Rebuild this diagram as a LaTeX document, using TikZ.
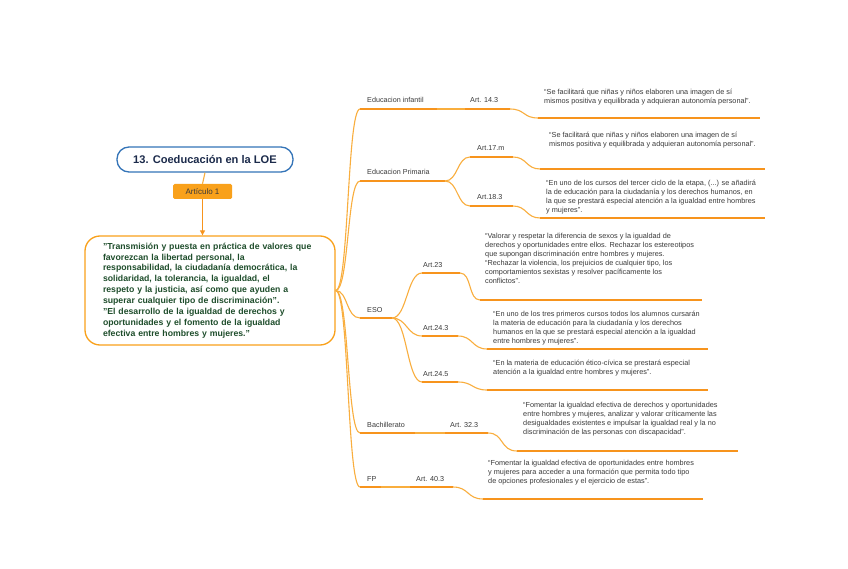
\documentclass[tikz,border=0pt]{standalone}
\usepackage{fontspec}
\setmainfont{Liberation Sans}
\usetikzlibrary{arrows.meta,positioning}

\definecolor{lineor}{HTML}{F9AE3E}
\definecolor{baror}{HTML}{F7941D}
\definecolor{boxor}{HTML}{F9A11B}
\definecolor{titleblue}{HTML}{3474B8}
\definecolor{titlenavy}{HTML}{1C2B4B}
\definecolor{quotegreen}{HTML}{1E4D2B}
\definecolor{txtgray}{HTML}{3A3A3A}

\newcommand{\dq}{\char34\relax}

\tikzset{
  branch/.style={draw=lineor, line width=1.1pt},
  bar/.style={draw=baror, line width=2.4pt},
  lbl/.style={anchor=base west, inner sep=0pt, text=txtgray, font=\fontsize{7.2}{9}\selectfont},
  quote/.style={anchor=north west, inner sep=0pt, align=left, text=txtgray, font=\fontsize{7.3}{9}\selectfont},
}

\begin{document}
\begin{tikzpicture}[x=1pt,y=-1pt]
    \useasboundingbox[fill=white] (0,0) rectangle (848,569);

    % Root and article 1
    \node[draw=titleblue, line width=1.3pt, rounded corners=12pt, minimum width=176pt, minimum height=25pt,
          text=titlenavy, font=\fontsize{11.1}{13}\selectfont\bfseries] (title) at (205,159.5) {13. Coeducación en la LOE};
    \node[fill=boxor, rounded corners=1.5pt, minimum width=59pt, minimum height=15pt, inner sep=0pt,
          text=txtgray, font=\fontsize{8}{9}\selectfont] (art1) at (202.5,191.5) {Artículo 1};
    \node[draw=boxor, line width=1.3pt, rounded corners=15pt, minimum width=250pt, minimum height=109pt,
          text width=214pt, align=left, text=quotegreen, font=\fontsize{8.7}{10.9}\selectfont\bfseries] (main) at (210,290.5)
          {\dq Transmisión y puesta en práctica de valores que\\
           favorezcan la libertad personal, la\\
           responsabilidad, la ciudadanía democrática, la\\
           solidaridad, la tolerancia, la igualdad, el\\
           respeto y la justicia, así como que ayuden a\\
           superar cualquier tipo de discriminación\dq.\\
           \dq El desarrollo de la igualdad de derechos y\\
           oportunidades y el fomento de la igualdad\\
           efectiva entre hombres y mujeres.\dq};
    \draw[branch] (title.south) -- (art1.north);
    \draw[branch, -{Triangle[length=5pt,width=5pt]}, baror] (art1.south) -- (art1.south |- main.north);

    % Educacion infantil
    \coordinate (inf0) at (360,109); \coordinate (inf1) at (437,109);
    \coordinate (a143a) at (465,109); \coordinate (a143b) at (510,109);
    \coordinate (q143a) at (538,118); \coordinate (q143b) at (760,118);
    \node[lbl] (inf) at (367,103) {Educacion infantil};
    \node[lbl] (a143) at (470,103) {Art. 14.3};
    \node[quote] (q143) at (544,88.5) {“Se facilitará que niñas y niños elaboren una imagen de sí\\
        mismos positiva y equilibrada y adquieran autonomía personal”.};
    \draw[branch] (main.east) .. controls (349,290.5) and (347,109) .. (inf0);
    \draw[bar] (inf0) -- (inf1);
    \draw[branch] (inf1) -- (a143a);
    \draw[bar] (a143a) -- (a143b);
    \draw[branch] (a143b) .. controls (525,109) and (523,118) .. (q143a);
    \draw[bar] (q143a) -- (q143b);

    % Educacion Primaria
    \coordinate (pri0) at (360,181); \coordinate (pri1) at (445,181);
    \coordinate (a17a) at (470,157); \coordinate (a17b) at (513,157);
    \coordinate (q17a) at (540,169); \coordinate (q17b) at (765,169);
    \coordinate (a18a) at (470,206); \coordinate (a18b) at (513,206);
    \coordinate (q18a) at (540,218); \coordinate (q18b) at (765,218);
    \node[lbl] (pri) at (367,175) {Educacion Primaria};
    \node[lbl] (a17) at (477,151) {Art.17.m};
    \node[lbl] (a18) at (477,200) {Art.18.3};
    \node[quote] (q17) at (549,131.5) {“Se facilitará que niñas y niños elaboren una imagen de sí\\
        mismos positiva y equilibrada y adquieran autonomía personal”.};
    \node[quote] (q18) at (546,179.5) {“En uno de los cursos del tercer ciclo de la etapa, (...) se añadirá\\
        la de educación para la ciudadanía y los derechos humanos, en\\
        la que se prestará especial atención a la igualdad entre hombres\\
        y mujeres”.};
    \draw[branch] (main.east) .. controls (349,290.5) and (347,181) .. (pri0);
    \draw[bar] (pri0) -- (pri1);
    \draw[branch] (pri1) .. controls (458,181) and (457,157) .. (a17a);
    \draw[branch] (pri1) .. controls (458,181) and (457,206) .. (a18a);
    \draw[bar] (a17a) -- (a17b);
    \draw[bar] (a18a) -- (a18b);
    \draw[branch] (a17b) .. controls (527,157) and (526,169) .. (q17a);
    \draw[branch] (a18b) .. controls (527,206) and (526,218) .. (q18a);
    \draw[bar] (q17a) -- (q17b);
    \draw[bar] (q18a) -- (q18b);

    % ESO
    \coordinate (eso0) at (360,318); \coordinate (eso1) at (392,318);
    \coordinate (a23a) at (422,273); \coordinate (a23b) at (460,273);
    \coordinate (q23a) at (480,300); \coordinate (q23b) at (702,300);
    \coordinate (a243a) at (422,336); \coordinate (a243b) at (458,336);
    \coordinate (q243a) at (487,349); \coordinate (q243b) at (708,349);
    \coordinate (a245a) at (422,382); \coordinate (a245b) at (458,382);
    \coordinate (q245a) at (487,390); \coordinate (q245b) at (708,390);
    \node[lbl] (eso) at (367,312.5) {ESO};
    \node[lbl] (a23) at (423,267.5) {Art.23};
    \node[lbl] (a243) at (423,330) {Art.24.3};
    \node[lbl] (a245) at (423,376) {Art.24.5};
    \node[quote] (q23) at (485,233.5) {“Valorar y respetar la diferencia de sexos y la igualdad de\\
        derechos y oportunidades entre ellos. Rechazar los estereotipos\\
        que supongan discriminación entre hombres y mujeres.\\
        “Rechazar la violencia, los prejuicios de cualquier tipo, los\\
        comportamientos sexistas y resolver pacíficamente los\\
        conflictos”.};
    \node[quote] (q243) at (493,310.5) {“En uno de los tres primeros cursos todos los alumnos cursarán\\
        la materia de educación para la ciudadanía y los derechos\\
        humanos en la que se prestará especial atención a la igualdad\\
        entre hombres y mujeres”.};
    \node[quote] (q245) at (493,359.5) {“En la materia de educación ético-cívica se prestará especial\\
        atención a la igualdad entre hombres y mujeres”.};
    \draw[branch] (main.east) .. controls (348,290.5) and (346,318) .. (eso0);
    \draw[bar] (eso0) -- (eso1);
    \draw[branch] (eso1) .. controls (407,318) and (407,273) .. (a23a);
    \draw[branch] (eso1) .. controls (407,318) and (407,336) .. (a243a);
    \draw[branch] (eso1) .. controls (407,318) and (407,382) .. (a245a);
    \draw[bar] (a23a) -- (a23b);
    \draw[bar] (a243a) -- (a243b);
    \draw[bar] (a245a) -- (a245b);
    \draw[branch] (a23b) .. controls (472,273) and (468,300) .. (q23a);
    \draw[branch] (a243b) .. controls (473,336) and (472,349) .. (q243a);
    \draw[branch] (a245b) .. controls (473,382) and (472,390) .. (q245a);
    \draw[bar] (q23a) -- (q23b);
    \draw[bar] (q243a) -- (q243b);
    \draw[bar] (q245a) -- (q245b);

    % Bachillerato
    \coordinate (bac0) at (360,433); \coordinate (bac1) at (415,433);
    \coordinate (a323a) at (445,433); \coordinate (a323b) at (488,433);
    \coordinate (q323a) at (517,451); \coordinate (q323b) at (738,451);
    \node[lbl] (bac) at (367,427) {Bachillerato};
    \node[lbl] (a323) at (450,427) {Art. 32.3};
    \node[quote] (q323) at (523,402.5) {“Fomentar la igualdad efectiva de derechos y oportunidades\\
        entre hombres y mujeres, analizar y valorar críticamente las\\
        desigualdades existentes e impulsar la igualdad real y la no\\
        discriminación de las personas con discapacidad”.};
    \draw[branch] (main.east) .. controls (349,290.5) and (347,433) .. (bac0);
    \draw[bar] (bac0) -- (bac1);
    \draw[branch] (bac1) -- (a323a);
    \draw[bar] (a323a) -- (a323b);
    \draw[branch] (a323b) .. controls (504,433) and (500,451) .. (q323a);
    \draw[bar] (q323a) -- (q323b);

    % FP
    \coordinate (fp0) at (360,487); \coordinate (fp1) at (381,487);
    \coordinate (a403a) at (410,487); \coordinate (a403b) at (453,487);
    \coordinate (q403a) at (483,499); \coordinate (q403b) at (703,499);
    \node[lbl] (fp) at (367,481) {FP};
    \node[lbl] (a403) at (416,481) {Art. 40.3};
    \node[quote] (q403) at (488,460.5) {“Fomentar la igualdad efectiva de oportunidades entre hombres\\
        y mujeres para acceder a una formación que permita todo tipo\\
        de opciones profesionales y el ejercicio de estas”.};
    \draw[branch] (main.east) .. controls (349,290.5) and (347,487) .. (fp0);
    \draw[bar] (fp0) -- (fp1);
    \draw[branch] (fp1) -- (a403a);
    \draw[bar] (a403a) -- (a403b);
    \draw[branch] (a403b) .. controls (469,487) and (467,499) .. (q403a);
    \draw[bar] (q403a) -- (q403b);
\end{tikzpicture}
\end{document}
